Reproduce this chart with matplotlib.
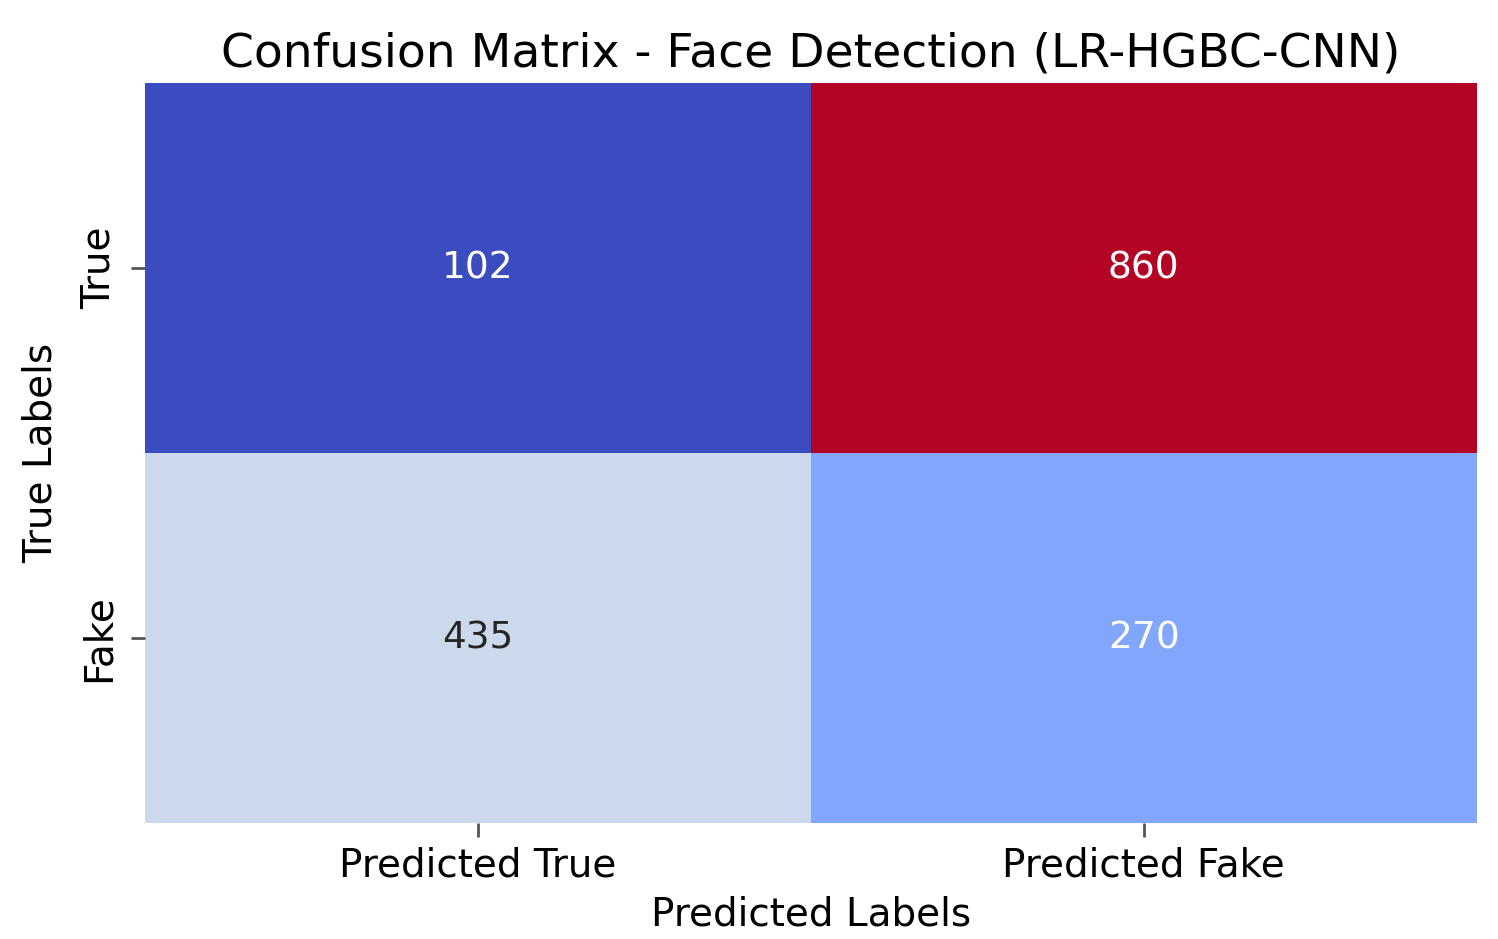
import matplotlib
matplotlib.use('Agg')
import matplotlib.pyplot as plt
import numpy as np
import seaborn as sns

row_labels = ['True', 'Fake']
col_labels = ['Predicted True', 'Predicted Fake']
counts = np.array([[102, 860],
                   [435, 270]])


def main():
    fig = plt.figure(figsize=(14.98, 9.39), dpi=100)
    ax = fig.add_axes([0.0968, 0.1235, 0.889, 0.788])
    sns.heatmap(counts, annot=True, fmt='d', cmap='coolwarm', cbar=False,
                xticklabels=col_labels, yticklabels=row_labels, ax=ax,
                annot_kws={'fontsize': 27})
    ax.set_title('Confusion Matrix - Face Detection (LR-HGBC-CNN)', fontsize=34, pad=12)
    ax.set_xlabel('Predicted Labels', fontsize=28, labelpad=8)
    ax.set_ylabel('True Labels', fontsize=28, labelpad=14)
    ax.tick_params(labelsize=28, length=10, width=2, color='#555555')
    ax.tick_params(axis='x', pad=7)
    ax.tick_params(axis='y', pad=10)
    plt.setp(ax.get_yticklabels(), rotation=90, va='center')
    fig.savefig('out.png', dpi=100)


if __name__ == '__main__':
    main()
